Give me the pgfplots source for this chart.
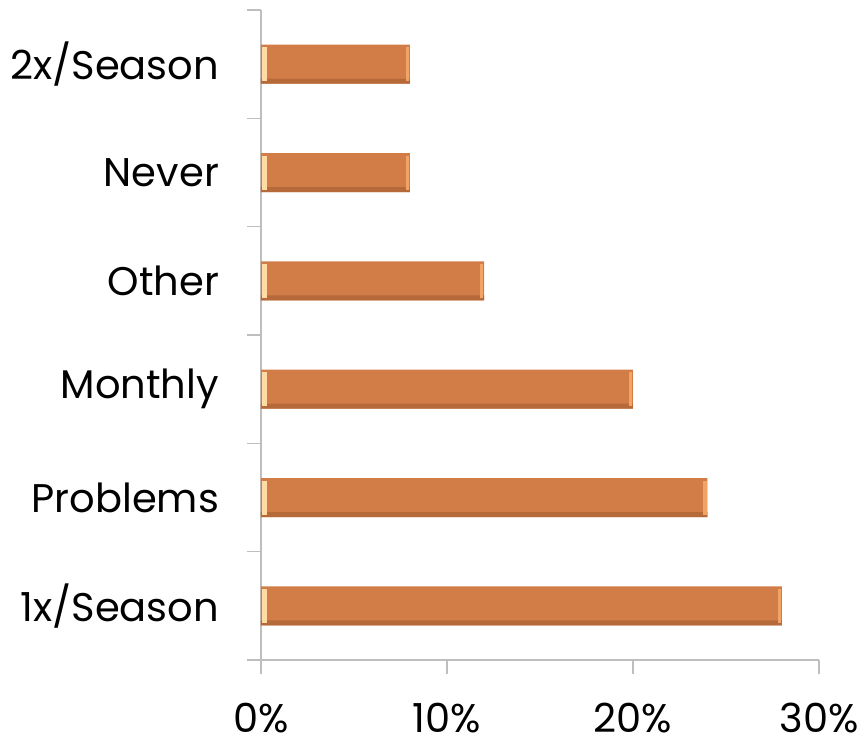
\documentclass[border=0pt]{standalone}
\usepackage{pgfplots}
\usepackage{pgfplotstable}
\pgfplotsset{compat=1.18}
\usepackage{fontspec}
\setmainfont{Poppins}
\definecolor{axisgray}{HTML}{BEBEBE}
\definecolor{barfill}{HTML}{D27D48}
\definecolor{barshade}{HTML}{B66A3A}
\definecolor{barcream}{HTML}{FFDCA5}
\definecolor{baredge}{HTML}{F2A467}
\pgfplotstableread{
val cat
28 1
24 2
20 3
12 4
8  5
8  6
}\answers
\begin{document}
\begin{tikzpicture}
\useasboundingbox (-130.5pt,-42.5pt) rectangle (303pt,330pt);
\begin{axis}[
  at={(0pt,0pt)}, anchor=south west,
  scale only axis,
  width=279pt, height=325pt,
  xmin=0, xmax=30, ymin=0.5, ymax=6.5,
  axis lines*=left,
  axis line style={axisgray, line width=0.75pt},
  every tick/.style={axisgray, line width=0.75pt},
  tick align=outside,
  major tick length=7pt,
  xtick={0,10,20,30},
  xticklabels={0\%,10\%,20\%,30\%},
  ytick={0.5,1.5,2.5,3.5,4.5,5.5,6.5},
  yticklabels={1x/Season,Problems,Monthly,Other,Never,2x/Season,{}},
  yticklabel style={yshift=27.08pt, xshift=-10.5pt, font=\fontsize{20}{24}\selectfont, text=black},
  xticklabel style={yshift=-11pt, font=\fontsize{20}{24}\selectfont, text=black},
  clip=false,
]
% main bars
\addplot[xbar, bar width=19.5pt, draw=none, fill=barfill]
  table[x=val, y=cat] {\answers};
% darker lower edge of each bar
\addplot[xbar, bar width=2.5pt, bar shift=-8.5pt, draw=none, fill=barshade, forget plot]
  table[x=val, y=cat] {\answers};
% light bevel at the right end
\addplot[only marks, mark=|, mark size=8.5pt, baredge, line width=1.6pt,
  every mark/.append style={xshift=-1.2pt}, forget plot]
  table[x=val, y=cat] {\answers};
% cream bevel at the base of each bar
\addplot[only marks, mark=|, mark size=8.5pt, barcream, line width=2.2pt,
  every mark/.append style={xshift=1.7pt}, forget plot]
  table[x expr=0, y=cat] {\answers};
\end{axis}
\end{tikzpicture}
\end{document}
